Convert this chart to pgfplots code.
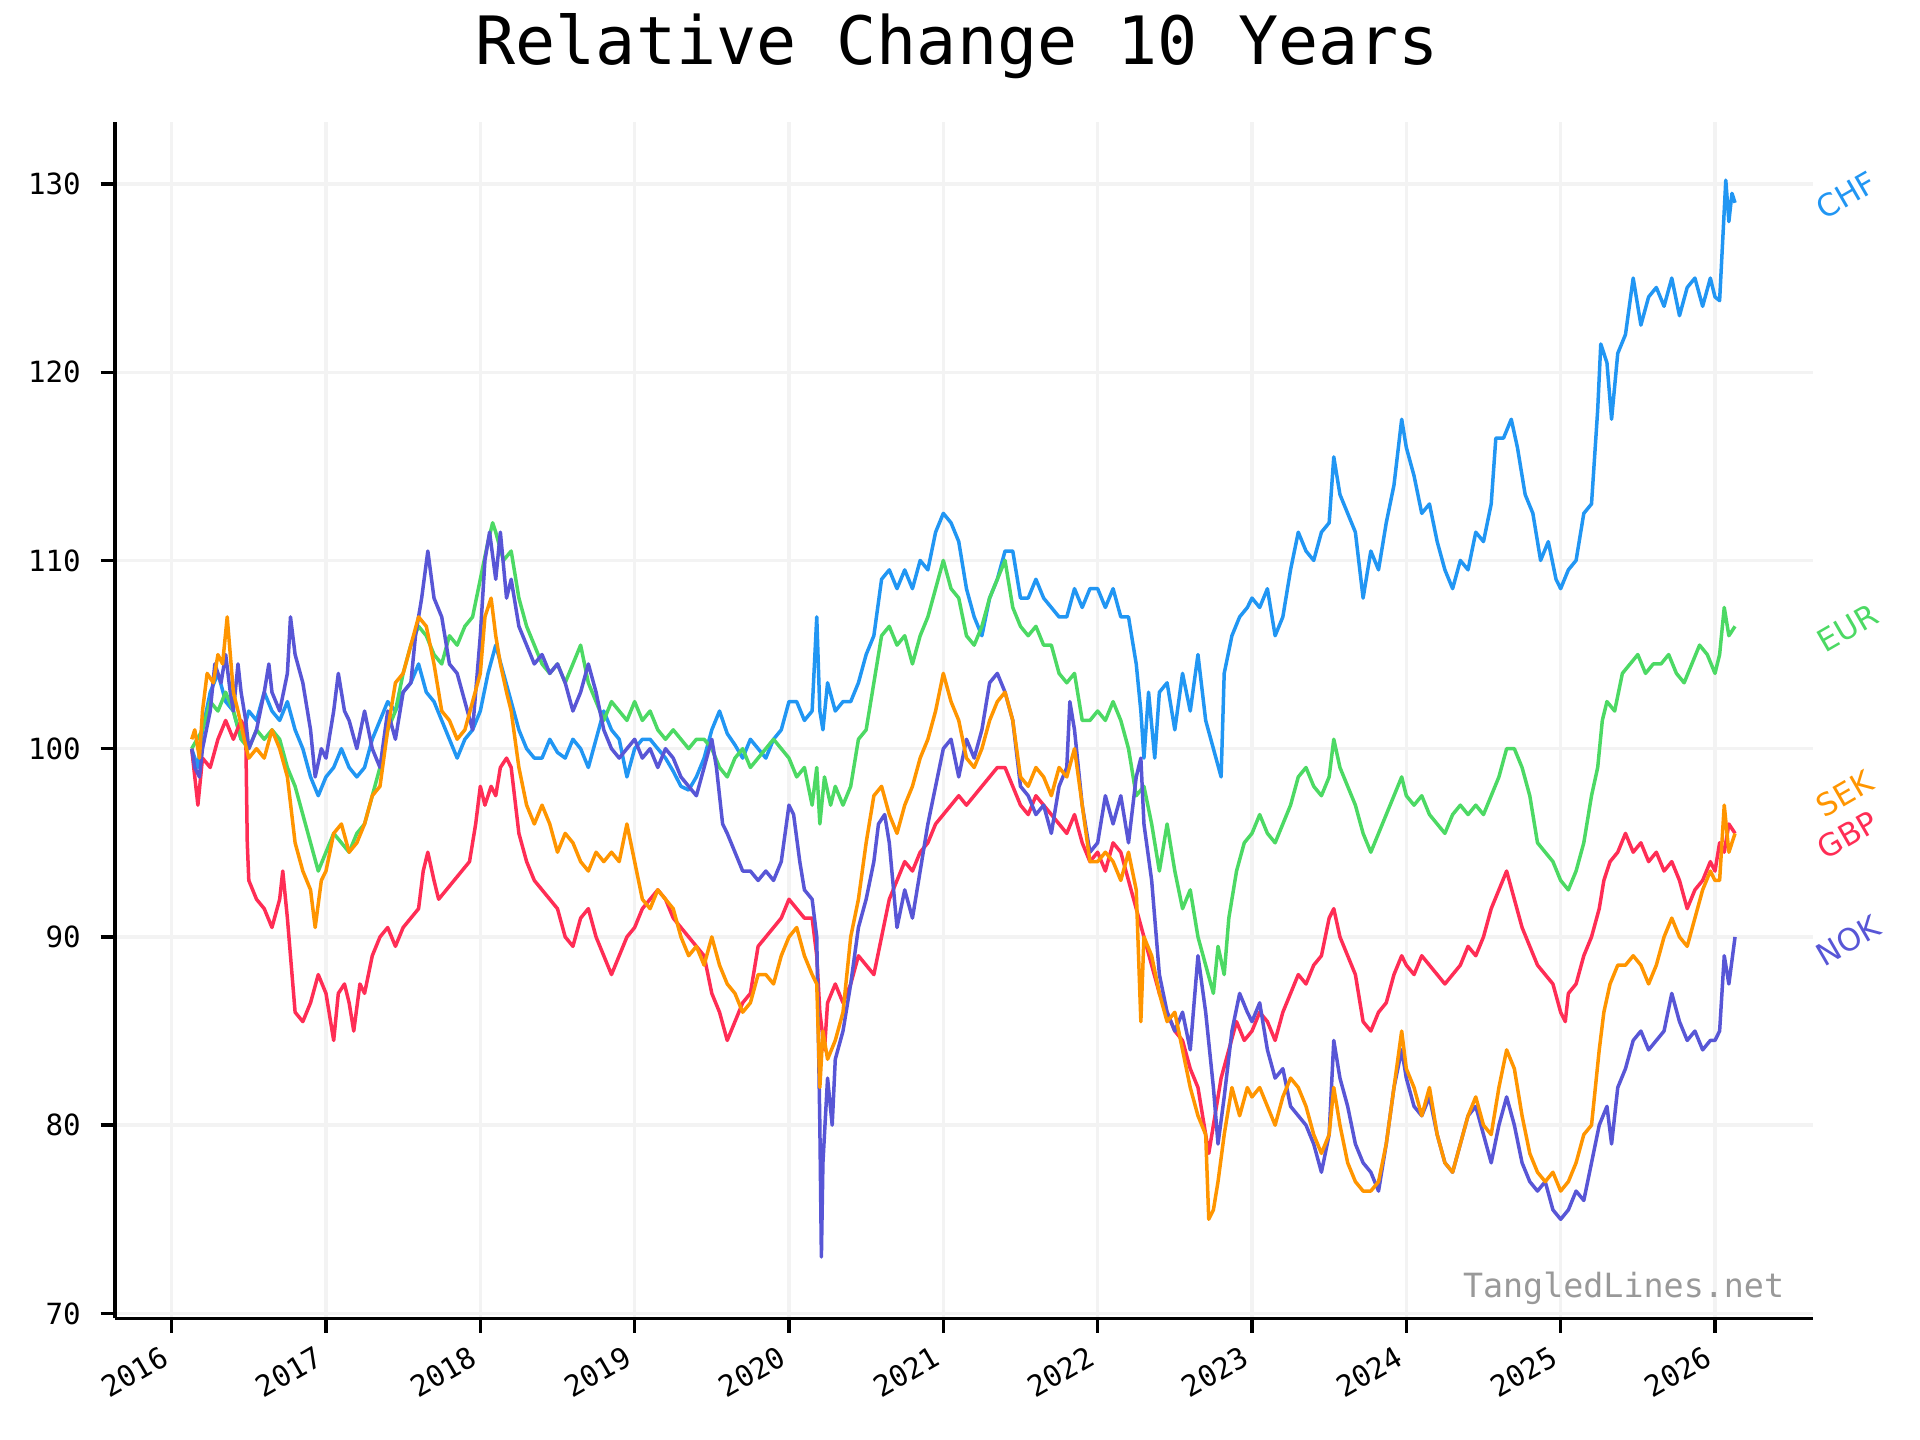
\documentclass[border=0pt]{standalone}
\usepackage{fontspec}
\setmainfont{DejaVu Sans}
\newfontfamily\mono{DejaVu Sans Mono}
\usepackage{pgfplots}
\pgfplotsset{compat=1.18}

\definecolor{chf}{HTML}{2196F3}
\definecolor{eur}{HTML}{4CD964}
\definecolor{sek}{HTML}{FF9500}
\definecolor{gbp}{HTML}{FF2D55}
\definecolor{nok}{HTML}{5856D6}
\definecolor{gridc}{HTML}{F3F3F3}

\begin{document}
\begin{tikzpicture}
\path[use as bounding box] (0,0) rectangle (1152pt,864pt);
\node[anchor=base, font=\mono\fontsize{40}{44}\selectfont] at (574.3pt,825pt) {Relative Change 10 Years};
\begin{axis}[
    at={(69pt,72.9pt)}, anchor=south west,
    scale only axis,
    width=1018.6pt, height=718pt,
    xmin=2015.633, xmax=2026.633,
    ymin=69.73, ymax=133.3,
    axis x line*=bottom, axis y line*=left,
    axis line style={line width=2pt, -},
    xtick={2016,2017,2018,2019,2020,2021,2022,2023,2024,2025,2026},
    xticklabels={2016,2017,2018,2019,2020,2021,2022,2023,2024,2025,2026},
    ytick={70,80,90,100,110,120,130},
    tick align=outside,
    major tick length=8.7pt,
    tick style={line width=2pt, black},
    grid=major,
    major grid style={line width=2pt, gridc},
    tick label style={font=\mono\fontsize{17.5}{20}\selectfont},
    xticklabel style={xshift=-6pt, yshift=-2.2pt, rotate=30, anchor=north east},
    yticklabel style={xshift=-8.4pt},
    /pgf/number format/assume math mode=true,
    clip=false,
    every axis plot/.append style={line width=2.1pt, mark=none, line join=round},
]

% CHF
\addplot[chf] coordinates {
(2016.13,100.0)(2016.17,99.0)(2016.2,101)(2016.25,103)(2016.3,104)(2016.35,102.5)(2016.4,102)(2016.45,100.5)
(2016.5,102)(2016.55,101.5)(2016.6,103)(2016.65,102)(2016.7,101.5)(2016.75,102.5)(2016.8,101)(2016.85,100)
(2016.9,98.5)(2016.95,97.5)(2017.0,98.5)(2017.05,99)(2017.1,100)(2017.15,99)(2017.2,98.5)(2017.25,99)
(2017.3,100.5)(2017.35,101.5)(2017.4,102.5)(2017.45,102)(2017.5,103)(2017.55,103.5)(2017.6,104.5)(2017.65,103)
(2017.7,102.5)(2017.75,101.5)(2017.8,100.5)(2017.85,99.5)(2017.9,100.5)(2017.95,101)(2018.0,102)(2018.05,104)
(2018.1,105.5)(2018.15,104)(2018.2,102.5)(2018.25,101)(2018.3,100)(2018.35,99.5)(2018.4,99.5)(2018.45,100.5)
(2018.5,99.8)(2018.55,99.5)(2018.6,100.5)(2018.65,100)(2018.7,99)(2018.75,100.5)(2018.8,102)(2018.85,101)
(2018.9,100.5)(2018.95,98.5)(2019.0,100)(2019.05,100.5)(2019.1,100.5)(2019.15,100)(2019.2,99.5)(2019.25,98.8)
(2019.3,98)(2019.35,97.8)(2019.4,98.5)(2019.45,99.5)(2019.5,101)(2019.55,102)(2019.6,100.8)(2019.65,100.2)
(2019.7,99.5)(2019.75,100.5)(2019.8,100)(2019.85,99.5)(2019.9,100.5)(2019.95,101)(2020.0,102.5)(2020.05,102.5)
(2020.1,101.5)(2020.15,102)(2020.18,107)(2020.2,102)(2020.22,101)(2020.25,103.5)(2020.3,102)(2020.35,102.5)
(2020.4,102.5)(2020.45,103.5)(2020.5,105)(2020.55,106)(2020.6,109)(2020.65,109.5)(2020.7,108.5)(2020.75,109.5)
(2020.8,108.5)(2020.85,110)(2020.9,109.5)(2020.95,111.5)(2021.0,112.5)(2021.05,112)(2021.1,111)(2021.15,108.5)
(2021.2,107)(2021.25,106)(2021.3,108)(2021.35,109)(2021.4,110.5)(2021.45,110.5)(2021.5,108)(2021.55,108)
(2021.6,109)(2021.65,108)(2021.7,107.5)(2021.75,107)(2021.8,107)(2021.85,108.5)(2021.9,107.5)(2021.95,108.5)
(2022.0,108.5)(2022.05,107.5)(2022.1,108.5)(2022.15,107)(2022.2,107)(2022.25,104.5)(2022.28,102)(2022.3,99.5)
(2022.33,103)(2022.37,99.5)(2022.4,103)(2022.45,103.5)(2022.5,101)(2022.55,104)(2022.6,102)(2022.65,105)
(2022.7,101.5)(2022.75,100)(2022.8,98.5)(2022.82,104)(2022.87,106)(2022.92,107)(2022.97,107.5)(2023.0,108)
(2023.05,107.5)(2023.1,108.5)(2023.15,106)(2023.2,107)(2023.25,109.5)(2023.3,111.5)(2023.35,110.5)(2023.4,110)
(2023.45,111.5)(2023.5,112)(2023.53,115.5)(2023.57,113.5)(2023.62,112.5)(2023.67,111.5)(2023.72,108)(2023.77,110.5)
(2023.82,109.5)(2023.87,112)(2023.92,114)(2023.97,117.5)(2024.0,116)(2024.05,114.5)(2024.1,112.5)(2024.15,113)
(2024.2,111)(2024.25,109.5)(2024.3,108.5)(2024.35,110)(2024.4,109.5)(2024.45,111.5)(2024.5,111)(2024.55,113)
(2024.58,116.5)(2024.63,116.5)(2024.68,117.5)(2024.72,116)(2024.77,113.5)(2024.82,112.5)(2024.87,110)(2024.92,111)
(2024.97,109)(2025.0,108.5)(2025.05,109.5)(2025.1,110)(2025.15,112.5)(2025.2,113)(2025.24,118)(2025.26,121.5)
(2025.3,120.5)(2025.33,117.5)(2025.37,121)(2025.42,122)(2025.47,125)(2025.52,122.5)(2025.57,124)(2025.62,124.5)
(2025.67,123.5)(2025.72,125)(2025.77,123)(2025.82,124.5)(2025.87,125)(2025.92,123.5)(2025.97,125)(2026.0,124)
(2026.03,123.8)(2026.05,127)(2026.07,130.2)(2026.09,128)(2026.11,129.5)(2026.13,129)
};

% EUR
\addplot[eur] coordinates {
(2016.13,100)(2016.2,101)(2016.25,102.5)(2016.3,102)(2016.35,103)(2016.4,102)(2016.45,100.5)(2016.5,100)
(2016.55,101)(2016.6,100.5)(2016.65,101)(2016.7,100.5)(2016.75,99)(2016.8,98)(2016.85,96.5)(2016.9,95)
(2016.95,93.5)(2017.0,94.5)(2017.05,95.5)(2017.1,95)(2017.15,94.5)(2017.2,95.5)(2017.25,96)(2017.3,97.5)
(2017.35,99)(2017.4,101)(2017.45,102)(2017.5,104)(2017.55,105.5)(2017.6,106.5)(2017.65,106)(2017.7,105)
(2017.75,104.5)(2017.8,106)(2017.85,105.5)(2017.9,106.5)(2017.95,107)(2018.0,109)(2018.05,111)(2018.08,112)
(2018.1,111.5)(2018.15,110)(2018.2,110.5)(2018.25,108)(2018.3,106.5)(2018.35,105.5)(2018.4,104.5)(2018.45,104)
(2018.5,104.5)(2018.55,103.5)(2018.6,104.5)(2018.65,105.5)(2018.7,103.5)(2018.75,102.5)(2018.8,101.5)(2018.85,102.5)
(2018.9,102)(2018.95,101.5)(2019.0,102.5)(2019.05,101.5)(2019.1,102)(2019.15,101)(2019.2,100.5)(2019.25,101)
(2019.3,100.5)(2019.35,100)(2019.4,100.5)(2019.45,100.5)(2019.5,100)(2019.55,99)(2019.6,98.5)(2019.65,99.5)
(2019.7,100)(2019.75,99)(2019.8,99.5)(2019.85,100)(2019.9,100.5)(2019.95,100)(2020.0,99.5)(2020.05,98.5)
(2020.1,99)(2020.15,97)(2020.18,99)(2020.2,96)(2020.23,98.5)(2020.27,97)(2020.3,98)(2020.35,97)
(2020.4,98)(2020.45,100.5)(2020.5,101)(2020.55,103.5)(2020.6,106)(2020.65,106.5)(2020.7,105.5)(2020.75,106)
(2020.8,104.5)(2020.85,106)(2020.9,107)(2020.95,108.5)(2021.0,110)(2021.05,108.5)(2021.1,108)(2021.15,106)
(2021.2,105.5)(2021.25,106.5)(2021.3,108)(2021.35,109)(2021.4,110)(2021.45,107.5)(2021.5,106.5)(2021.55,106)
(2021.6,106.5)(2021.65,105.5)(2021.7,105.5)(2021.75,104)(2021.8,103.5)(2021.85,104)(2021.9,101.5)(2021.95,101.5)
(2022.0,102)(2022.05,101.5)(2022.1,102.5)(2022.15,101.5)(2022.2,100)(2022.25,97.5)(2022.3,98)(2022.35,96)
(2022.4,93.5)(2022.45,96)(2022.5,93.5)(2022.55,91.5)(2022.6,92.5)(2022.65,90)(2022.7,88.5)(2022.75,87)
(2022.78,89.5)(2022.82,88)(2022.85,91)(2022.9,93.5)(2022.95,95)(2023.0,95.5)(2023.05,96.5)(2023.1,95.5)
(2023.15,95)(2023.2,96)(2023.25,97)(2023.3,98.5)(2023.35,99)(2023.4,98)(2023.45,97.5)(2023.5,98.5)
(2023.53,100.5)(2023.57,99)(2023.62,98)(2023.67,97)(2023.72,95.5)(2023.77,94.5)(2023.82,95.5)(2023.87,96.5)
(2023.92,97.5)(2023.97,98.5)(2024.0,97.5)(2024.05,97)(2024.1,97.5)(2024.15,96.5)(2024.2,96)(2024.25,95.5)
(2024.3,96.5)(2024.35,97)(2024.4,96.5)(2024.45,97)(2024.5,96.5)(2024.55,97.5)(2024.6,98.5)(2024.65,100)
(2024.7,100)(2024.75,99)(2024.8,97.5)(2024.85,95)(2024.9,94.5)(2024.95,94)(2025.0,93)(2025.05,92.5)
(2025.1,93.5)(2025.15,95)(2025.2,97.5)(2025.24,99)(2025.27,101.5)(2025.3,102.5)(2025.35,102)(2025.4,104)
(2025.45,104.5)(2025.5,105)(2025.55,104)(2025.6,104.5)(2025.65,104.5)(2025.7,105)(2025.75,104)(2025.8,103.5)
(2025.85,104.5)(2025.9,105.5)(2025.95,105)(2026.0,104)(2026.03,105)(2026.06,107.5)(2026.09,106)(2026.13,106.5)
};

% GBP
\addplot[gbp] coordinates {
(2016.13,100)(2016.15,98.5)(2016.17,97)(2016.2,99.5)(2016.25,99)(2016.3,100.5)(2016.35,101.5)(2016.4,100.5)
(2016.45,101.5)(2016.48,101)(2016.49,95)(2016.5,93)(2016.55,92)(2016.6,91.5)(2016.65,90.5)(2016.7,92)
(2016.72,93.5)(2016.75,91)(2016.77,89)(2016.8,86)(2016.85,85.5)(2016.9,86.5)(2016.95,88)(2017.0,87)
(2017.03,85.5)(2017.05,84.5)(2017.08,87)(2017.12,87.5)(2017.15,86.5)(2017.18,85)(2017.22,87.5)(2017.25,87)
(2017.3,89)(2017.35,90)(2017.4,90.5)(2017.45,89.5)(2017.5,90.5)(2017.55,91)(2017.6,91.5)(2017.63,93.5)
(2017.66,94.5)(2017.7,93)(2017.73,92)(2017.78,92.5)(2017.83,93)(2017.88,93.5)(2017.93,94)(2017.97,96)
(2018.0,98)(2018.03,97)(2018.07,98)(2018.1,97.5)(2018.13,99)(2018.17,99.5)(2018.2,99)(2018.25,95.5)
(2018.3,94)(2018.35,93)(2018.4,92.5)(2018.45,92)(2018.5,91.5)(2018.55,90)(2018.6,89.5)(2018.65,91)
(2018.7,91.5)(2018.75,90)(2018.8,89)(2018.85,88)(2018.9,89)(2018.95,90)(2019.0,90.5)(2019.05,91.5)
(2019.1,92)(2019.15,92.5)(2019.2,92)(2019.25,91)(2019.3,90.5)(2019.35,90)(2019.4,89.5)(2019.45,89)
(2019.5,87)(2019.55,86)(2019.6,84.5)(2019.65,85.5)(2019.7,86.5)(2019.75,87)(2019.8,89.5)(2019.85,90)
(2019.9,90.5)(2019.95,91)(2020.0,92)(2020.05,91.5)(2020.1,91)(2020.15,91)(2020.18,89)(2020.2,86)
(2020.23,84)(2020.25,86.5)(2020.3,87.5)(2020.35,86.5)(2020.4,87.5)(2020.45,89)(2020.5,88.5)(2020.55,88)
(2020.6,90)(2020.65,92)(2020.7,93)(2020.75,94)(2020.8,93.5)(2020.85,94.5)(2020.9,95)(2020.95,96)
(2021.0,96.5)(2021.05,97)(2021.1,97.5)(2021.15,97)(2021.2,97.5)(2021.25,98)(2021.3,98.5)(2021.35,99)
(2021.4,99)(2021.45,98)(2021.5,97)(2021.55,96.5)(2021.6,97.5)(2021.65,97)(2021.7,96.5)(2021.75,96)
(2021.8,95.5)(2021.85,96.5)(2021.9,95)(2021.95,94)(2022.0,94.5)(2022.05,93.5)(2022.1,95)(2022.15,94.5)
(2022.2,93)(2022.25,91.5)(2022.3,90)(2022.35,88.5)(2022.4,87)(2022.45,86)(2022.5,85)(2022.55,84.5)
(2022.6,83)(2022.65,82)(2022.7,79.5)(2022.72,78.5)(2022.75,80)(2022.8,82.5)(2022.85,84)(2022.9,85.5)
(2022.95,84.5)(2023.0,85)(2023.05,86)(2023.1,85.5)(2023.15,84.5)(2023.2,86)(2023.25,87)(2023.3,88)
(2023.35,87.5)(2023.4,88.5)(2023.45,89)(2023.5,91)(2023.53,91.5)(2023.57,90)(2023.62,89)(2023.67,88)
(2023.72,85.5)(2023.77,85)(2023.82,86)(2023.87,86.5)(2023.92,88)(2023.97,89)(2024.0,88.5)(2024.05,88)
(2024.1,89)(2024.15,88.5)(2024.2,88)(2024.25,87.5)(2024.3,88)(2024.35,88.5)(2024.4,89.5)(2024.45,89)
(2024.5,90)(2024.55,91.5)(2024.6,92.5)(2024.65,93.5)(2024.7,92)(2024.75,90.5)(2024.8,89.5)(2024.85,88.5)
(2024.9,88)(2024.95,87.5)(2025.0,86)(2025.03,85.5)(2025.05,87)(2025.1,87.5)(2025.15,89)(2025.2,90)
(2025.25,91.5)(2025.28,93)(2025.32,94)(2025.37,94.5)(2025.42,95.5)(2025.47,94.5)(2025.52,95)(2025.57,94)
(2025.62,94.5)(2025.67,93.5)(2025.72,94)(2025.77,93)(2025.82,91.5)(2025.87,92.5)(2025.92,93)(2025.97,94)
(2026.0,93.5)(2026.03,95)(2026.06,94.5)(2026.09,96)(2026.13,95.5)
};

% NOK
\addplot[nok] coordinates {
(2016.13,100)(2016.15,99)(2016.18,98.5)(2016.2,100)(2016.25,102)(2016.28,104.5)(2016.32,103.5)(2016.35,105)
(2016.38,103)(2016.4,102)(2016.43,104.5)(2016.45,103)(2016.48,101.5)(2016.5,100)(2016.55,101)(2016.6,103)
(2016.63,104.5)(2016.65,103)(2016.7,102)(2016.75,104)(2016.77,107)(2016.8,105)(2016.85,103.5)(2016.9,101)
(2016.93,98.5)(2016.97,100)(2017.0,99.5)(2017.05,102)(2017.08,104)(2017.12,102)(2017.15,101.5)(2017.2,100)
(2017.25,102)(2017.3,100)(2017.35,99)(2017.4,102)(2017.45,100.5)(2017.5,103)(2017.55,103.5)(2017.58,106)
(2017.62,108)(2017.66,110.5)(2017.7,108)(2017.75,107)(2017.8,104.5)(2017.85,104)(2017.9,102.5)(2017.95,101)
(2018.0,106)(2018.03,110)(2018.06,111.5)(2018.1,109)(2018.13,111.5)(2018.17,108)(2018.2,109)(2018.25,106.5)
(2018.3,105.5)(2018.35,104.5)(2018.4,105)(2018.45,104)(2018.5,104.5)(2018.55,103.5)(2018.6,102)(2018.65,103)
(2018.7,104.5)(2018.75,103)(2018.8,101)(2018.85,100)(2018.9,99.5)(2018.95,100)(2019.0,100.5)(2019.05,99.5)
(2019.1,100)(2019.15,99)(2019.2,100)(2019.25,99.5)(2019.3,98.5)(2019.35,98)(2019.4,97.5)(2019.45,99)
(2019.5,100.5)(2019.53,99)(2019.57,96)(2019.6,95.5)(2019.65,94.5)(2019.7,93.5)(2019.75,93.5)(2019.8,93)
(2019.85,93.5)(2019.9,93)(2019.95,94)(2020.0,97)(2020.03,96.5)(2020.07,94)(2020.1,92.5)(2020.15,92)
(2020.18,90)(2020.2,80)(2020.21,73)(2020.22,78)(2020.25,82.5)(2020.28,80)(2020.3,83.5)(2020.35,85)
(2020.4,87.5)(2020.45,90.5)(2020.5,92)(2020.55,94)(2020.58,96)(2020.62,96.5)(2020.65,95)(2020.7,90.5)
(2020.75,92.5)(2020.8,91)(2020.85,93.5)(2020.9,96)(2020.95,98)(2021.0,100)(2021.05,100.5)(2021.1,98.5)
(2021.15,100.5)(2021.2,99.5)(2021.25,101)(2021.3,103.5)(2021.35,104)(2021.4,103)(2021.45,101.5)(2021.5,98)
(2021.55,97.5)(2021.6,96.5)(2021.65,97)(2021.7,95.5)(2021.75,98)(2021.8,99)(2021.82,102.5)(2021.85,101)
(2021.9,97)(2021.95,94.5)(2022.0,95)(2022.05,97.5)(2022.1,96)(2022.15,97.5)(2022.2,95)(2022.25,98.5)
(2022.28,99.5)(2022.3,96)(2022.35,93)(2022.4,88)(2022.45,86)(2022.5,85)(2022.55,86)(2022.6,84)
(2022.65,89)(2022.7,86)(2022.75,82)(2022.78,79)(2022.82,81.5)(2022.87,85)(2022.92,87)(2022.97,86)
(2023.0,85.5)(2023.05,86.5)(2023.1,84)(2023.15,82.5)(2023.2,83)(2023.25,81)(2023.3,80.5)(2023.35,80)
(2023.4,79)(2023.45,77.5)(2023.5,79.5)(2023.53,84.5)(2023.57,82.5)(2023.62,81)(2023.67,79)(2023.72,78)
(2023.77,77.5)(2023.82,76.5)(2023.87,79)(2023.92,82)(2023.97,84)(2024.0,82.5)(2024.05,81)(2024.1,80.5)
(2024.15,81.5)(2024.2,79.5)(2024.25,78)(2024.3,77.5)(2024.35,79)(2024.4,80.5)(2024.45,81)(2024.5,79.5)
(2024.55,78)(2024.6,80)(2024.65,81.5)(2024.7,80)(2024.75,78)(2024.8,77)(2024.85,76.5)(2024.9,77)
(2024.95,75.5)(2025.0,75)(2025.05,75.5)(2025.1,76.5)(2025.15,76)(2025.2,78)(2025.25,80)(2025.3,81)
(2025.33,79)(2025.37,82)(2025.42,83)(2025.47,84.5)(2025.52,85)(2025.57,84)(2025.62,84.5)(2025.67,85)
(2025.72,87)(2025.77,85.5)(2025.82,84.5)(2025.87,85)(2025.92,84)(2025.97,84.5)(2026.0,84.5)(2026.03,85)
(2026.06,89)(2026.09,87.5)(2026.13,90)
};

% SEK
\addplot[sek] coordinates {
(2016.13,100.5)(2016.15,101)(2016.18,99.5)(2016.2,102)(2016.23,104)(2016.27,103.5)(2016.3,105)(2016.33,104.5)
(2016.36,107)(2016.4,103)(2016.43,102)(2016.47,100.5)(2016.5,99.5)(2016.55,100)(2016.6,99.5)(2016.65,101)
(2016.7,100)(2016.75,98.5)(2016.8,95)(2016.85,93.5)(2016.9,92.5)(2016.93,90.5)(2016.97,93)(2017.0,93.5)
(2017.05,95.5)(2017.1,96)(2017.15,94.5)(2017.2,95)(2017.25,96)(2017.3,97.5)(2017.35,98)(2017.4,101)
(2017.45,103.5)(2017.5,104)(2017.55,105.5)(2017.6,107)(2017.65,106.5)(2017.7,104.5)(2017.75,102)(2017.8,101.5)
(2017.85,100.5)(2017.9,101)(2017.95,102.5)(2018.0,104)(2018.03,107)(2018.07,108)(2018.1,106)(2018.13,104.5)
(2018.17,103)(2018.2,102)(2018.25,99)(2018.3,97)(2018.35,96)(2018.4,97)(2018.45,96)(2018.5,94.5)
(2018.55,95.5)(2018.6,95)(2018.65,94)(2018.7,93.5)(2018.75,94.5)(2018.8,94)(2018.85,94.5)(2018.9,94)
(2018.95,96)(2019.0,94)(2019.05,92)(2019.1,91.5)(2019.15,92.5)(2019.2,92)(2019.25,91.5)(2019.3,90)
(2019.35,89)(2019.4,89.5)(2019.45,88.5)(2019.5,90)(2019.55,88.5)(2019.6,87.5)(2019.65,87)(2019.7,86)
(2019.75,86.5)(2019.8,88)(2019.85,88)(2019.9,87.5)(2019.95,89)(2020.0,90)(2020.05,90.5)(2020.1,89)
(2020.15,88)(2020.18,87.5)(2020.2,82)(2020.22,85)(2020.25,83.5)(2020.3,84.5)(2020.35,86)(2020.4,90)
(2020.45,92)(2020.5,95)(2020.55,97.5)(2020.6,98)(2020.65,96.5)(2020.7,95.5)(2020.75,97)(2020.8,98)
(2020.85,99.5)(2020.9,100.5)(2020.95,102)(2021.0,104)(2021.05,102.5)(2021.1,101.5)(2021.15,99.5)(2021.2,99)
(2021.25,100)(2021.3,101.5)(2021.35,102.5)(2021.4,103)(2021.45,101.5)(2021.5,98.5)(2021.55,98)(2021.6,99)
(2021.65,98.5)(2021.7,97.5)(2021.75,99)(2021.8,98.5)(2021.85,100)(2021.9,97)(2021.95,94)(2022.0,94)
(2022.05,94.5)(2022.1,94)(2022.15,93)(2022.2,94.5)(2022.25,92.5)(2022.28,85.5)(2022.3,90)(2022.35,89)
(2022.4,87)(2022.45,85.5)(2022.5,86)(2022.55,84)(2022.6,82)(2022.65,80.5)(2022.7,79.5)(2022.72,75)
(2022.75,75.5)(2022.78,77)(2022.82,79.5)(2022.87,82)(2022.92,80.5)(2022.97,82)(2023.0,81.5)(2023.05,82)
(2023.1,81)(2023.15,80)(2023.2,81.5)(2023.25,82.5)(2023.3,82)(2023.35,81)(2023.4,79.5)(2023.45,78.5)
(2023.5,79.5)(2023.53,82)(2023.57,80)(2023.62,78)(2023.67,77)(2023.72,76.5)(2023.77,76.5)(2023.82,77)
(2023.87,79)(2023.92,82)(2023.97,85)(2024.0,83)(2024.05,82)(2024.1,80.5)(2024.15,82)(2024.2,79.5)
(2024.25,78)(2024.3,77.5)(2024.35,79)(2024.4,80.5)(2024.45,81.5)(2024.5,80)(2024.55,79.5)(2024.6,82)
(2024.65,84)(2024.7,83)(2024.75,80.5)(2024.8,78.5)(2024.85,77.5)(2024.9,77)(2024.95,77.5)(2025.0,76.5)
(2025.05,77)(2025.1,78)(2025.15,79.5)(2025.2,80)(2025.25,84)(2025.28,86)(2025.32,87.5)(2025.37,88.5)
(2025.42,88.5)(2025.47,89)(2025.52,88.5)(2025.57,87.5)(2025.62,88.5)(2025.67,90)(2025.72,91)(2025.77,90)
(2025.82,89.5)(2025.87,91)(2025.92,92.5)(2025.97,93.5)(2026.0,93)(2026.03,93)(2026.06,97)(2026.09,94.5)
(2026.13,95.5)
};

\begin{scope}[every node/.style={font=\fontsize{18.5}{20}\selectfont, rotate=30}]
\node[chf] at (axis cs:2026.85,129.4) {CHF};
\node[eur] at (axis cs:2026.86,106.4) {EUR};
\node[sek] at (axis cs:2026.84,97.6) {SEK};
\node[gbp] at (axis cs:2026.86,95.4) {GBP};
\node[nok] at (axis cs:2026.86,89.8) {NOK};
\end{scope}
\end{axis}
\node[anchor=base east, text=black!40, font=\mono\fontsize{20}{24}\selectfont] at (1074pt,85.2pt) {TangledLines.net};
\end{tikzpicture}
\end{document}
